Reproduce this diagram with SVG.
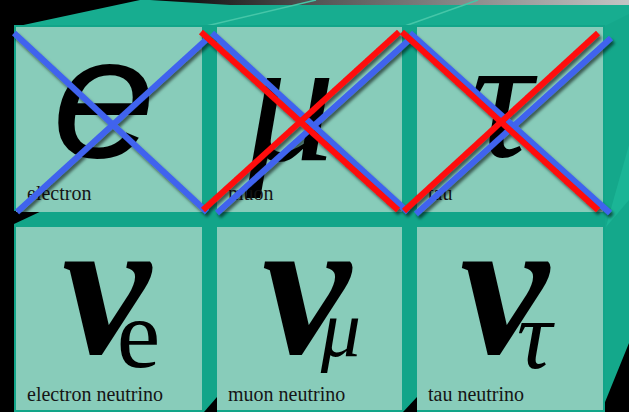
<svg xmlns="http://www.w3.org/2000/svg" width="629" height="412" viewBox="0 0 629 412">
<defs>
<linearGradient id="topstrip" x1="0" y1="0" x2="1" y2="0">
<stop offset="0" stop-color="#000"/>
<stop offset="0.35" stop-color="#555"/>
<stop offset="1" stop-color="#c4c4c4"/>
</linearGradient>
<filter id="sh" x="-10%" y="-10%" width="130%" height="130%">
<feDropShadow dx="2" dy="3" stdDeviation="1.6" flood-color="#000" flood-opacity="0.55"/>
</filter>
</defs>
<style>
.face{fill:#88CCBA}
.lbl{font-family:"Liberation Serif","Times New Roman",serif;font-size:20px;fill:#151515}
.big{font-family:"Liberation Sans",Arial,sans-serif;font-style:italic;fill:#000}
.gr{font-family:"Liberation Serif","Times New Roman",serif;font-style:italic;fill:#000}
.nu{font-family:"Liberation Serif","Times New Roman",serif;font-style:italic;font-weight:bold;font-size:200px;fill:#000}
.sub{font-weight:normal}
.blue{stroke:#3F63EE;stroke-width:6;fill:none}
.red{stroke:#FF0A0A;stroke-width:6;fill:none}
</style>
<rect width="629" height="412" fill="#000"/>
<!-- top face -->
<polygon points="14,27 140,0 629,0 629,27" fill="#17AD90"/>
<polygon points="150,0 629,0 629,5 230,5" fill="url(#topstrip)"/>
<line x1="202" y1="27" x2="316" y2="0" stroke="#46C6A8" stroke-width="1.5"/>
<line x1="402" y1="27" x2="478" y2="0" stroke="#46C6A8" stroke-width="1.5"/>
<!-- right face -->
<polygon points="603,27 629,14 629,412 603,412" fill="#14A88B"/>
<polygon points="612,205 629,145 629,200 606,227" fill="#1BB596"/>
<polygon points="629,343 629,412 601,412" fill="#000"/>
<!-- front frame -->
<rect x="14" y="25" width="591" height="387" fill="#12A589"/>
<polygon points="14,211 46,209 14,224" fill="#000"/>
<polygon points="204,412 217,397 217,412" fill="#000"/>
<polygon points="403,412 417,397 417,412" fill="#000"/>

<g id="electron">
<rect class="face" x="16" y="27" width="186" height="185"/>
<text class="big" x="52" y="157" font-size="172" textLength="104" lengthAdjust="spacingAndGlyphs">e</text>
<text class="lbl" x="27" y="200">electron</text>
</g>
<g id="muon">
<rect class="face" x="217" y="27" width="185" height="185"/>
<text class="gr" x="246" y="160" font-size="178">μ</text>
<text class="lbl" x="228" y="200">muon</text>
</g>
<g id="tau">
<rect class="face" x="417" y="27" width="186" height="185"/>
<text class="gr" x="470" y="156" font-size="174">τ</text>
<text class="lbl" x="428" y="200">tau</text>
</g>
<g id="electron-neutrino">
<rect class="face" x="16" y="227" width="186" height="183"/>
<text class="nu" x="62" y="353">ν<tspan class="sub" font-style="normal" font-size="98" dx="-34" dy="14">e</tspan></text>
<text class="lbl" x="27" y="401">electron neutrino</text>
</g>
<g id="muon-neutrino">
<rect class="face" x="217" y="227" width="185" height="183"/>
<text class="nu" x="262" y="353">ν<tspan class="sub" font-size="80" dx="-30" dy="3">μ</tspan></text>
<text class="lbl" x="228" y="401">muon neutrino</text>
</g>
<g id="tau-neutrino">
<rect class="face" x="417" y="227" width="186" height="183"/>
<text class="nu" x="460" y="353">ν<tspan class="sub" font-size="98" dx="-32" dy="15">τ</tspan></text>
<text class="lbl" x="428" y="401">tau neutrino</text>
</g>

<g id="crosses" filter="url(#sh)">
<line class="blue" x1="14" y1="33" x2="207" y2="212"/>
<line class="blue" x1="17" y1="212" x2="208" y2="38"/>
<line class="blue" x1="212" y1="33" x2="408" y2="212"/>
<line class="blue" x1="217" y1="213" x2="409" y2="40"/>
<line class="blue" x1="410" y1="33" x2="610" y2="213"/>
<line class="blue" x1="416" y1="214" x2="611" y2="38"/>
<line class="red" x1="201" y1="32" x2="398" y2="210"/>
<line class="red" x1="203" y1="210" x2="399" y2="32"/>
<line class="red" x1="402" y1="32" x2="598" y2="210"/>
<line class="red" x1="404" y1="211" x2="598" y2="33"/>
</g>
</svg>
